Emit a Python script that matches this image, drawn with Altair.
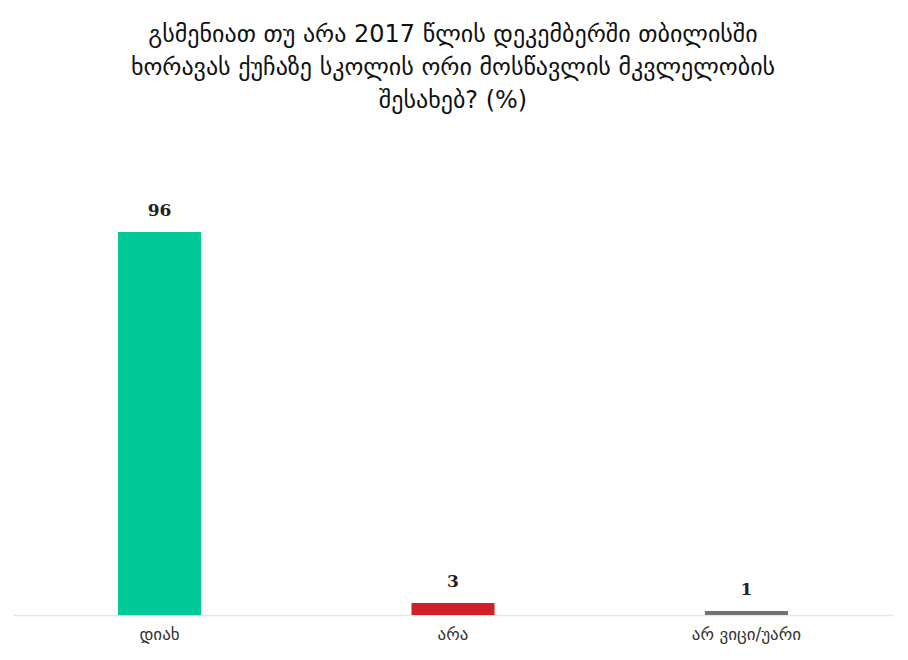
import altair as alt
import pandas as pd

categories = ["დიახ", "არა", "არ ვიცი/უარი"]
values = [96, 3, 1]
colors = ["#00C896", "#D0202A", "#767171"]
title_lines = [
    "გსმენიათ თუ არა 2017 წლის დეკემბერში თბილისში",
    "ხორავას ქუჩაზე სკოლის ორი მოსწავლის მკვლელობის",
    "შესახებ? (%)",
]

df = pd.DataFrame({"cat": categories, "val": values, "color": colors})

x = alt.X(
    "cat:N",
    sort=categories,
    title=None,
    scale=alt.Scale(paddingInner=0.717, paddingOuter=0.358),
    axis=alt.Axis(
        labelAngle=0,
        ticks=False,
        domainColor="#e6e6e6",
        domainWidth=1.5,
        labelFont="DejaVu Sans",
        labelFontSize=17,
        labelColor="#333333",
        labelPadding=11,
        grid=False,
    ),
)
y = alt.Y("val:Q", scale=alt.Scale(domain=[0, 100]), axis=None)

bars = alt.Chart(df).mark_bar().encode(
    x=x, y=y, color=alt.Color("color:N", scale=None)
)
labels = alt.Chart(df).mark_text(
    baseline="bottom",
    dy=-12,
    font="DejaVu Serif",
    fontWeight="bold",
    fontSize=17,
    color="#222222",
).encode(x=alt.X("cat:N", sort=categories), y=y, text="val:Q")

chart = (
    alt.layer(bars, labels)
    .properties(
        width=880,
        height=399,
        title=alt.TitleParams(
            text=title_lines,
            font="DejaVu Sans",
            fontSize=24,
            fontWeight="normal",
            color="#111111",
            lineHeight=33,
            anchor="middle",
            offset=89,
        ),
        autosize=alt.AutoSizeParams(type="none"),
        padding={"left": 5, "top": 208, "right": 0, "bottom": 30},
    )
    .configure_view(stroke=None)
)

chart.save("out.html", embed_options={"renderer": "svg", "actions": False})
